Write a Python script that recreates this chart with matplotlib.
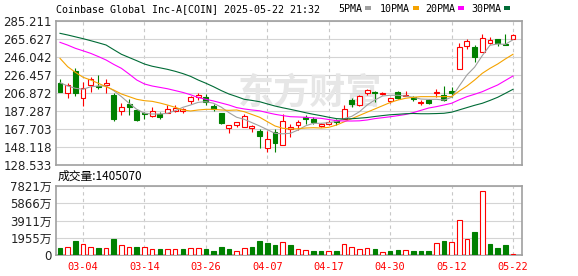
import matplotlib
matplotlib.use('Agg')
import matplotlib.pyplot as plt
from matplotlib.patches import Rectangle

W, H = 578, 276

# trading days shown on the chart (2025-02-27 .. 2025-05-22)
dates = ['02-27', '02-28', '03-03', '03-04', '03-05', '03-06', '03-07', '03-10', '03-11', '03-12',
         '03-13', '03-14', '03-17', '03-18', '03-19', '03-20', '03-21', '03-24', '03-25', '03-26',
         '03-27', '03-28', '03-31', '04-01', '04-02', '04-03', '04-04', '04-07', '04-08', '04-09',
         '04-10', '04-11', '04-14', '04-15', '04-16', '04-17', '04-21', '04-22', '04-23', '04-24',
         '04-25', '04-28', '04-29', '04-30', '05-01', '05-02', '05-05', '05-06', '05-07', '05-08',
         '05-09', '05-12', '05-13', '05-14', '05-15', '05-16', '05-19', '05-20', '05-21', '05-22']

opens = [217.4, 206.5, 231.1, 201.1, 215.2, 214.8, 215.2, 204.7, 187.0, 194.9,
         188.4, 184.6, 182.2, 184.3, 185.4, 187.0, 187.3, 198.2, 202.9, 202.9,
         192.4, 184.8, 169.1, 172.4, 170.2, 169.1, 165.5, 146.7, 164.4, 149.9,
         168.0, 171.7, 181.1, 178.3, 171.5, 173.0, 177.8, 178.9, 198.9, 194.1,
         206.5, 208.3, 206.0, 197.8, 207.9, 203.6, 202.2, 196.0, 199.2, 206.9,
         204.4, 209.0, 233.0, 257.7, 256.6, 251.2, 260.9, 265.3, 259.9, 265.9]
highs = [222.0, 217.4, 233.7, 218.5, 224.0, 226.5, 221.8, 207.2, 195.7, 200.0,
         189.1, 186.2, 192.0, 185.9, 193.5, 193.8, 190.2, 203.6, 206.5, 205.8,
         194.9, 185.4, 171.7, 175.7, 184.0, 172.4, 168.0, 165.9, 167.4, 183.7,
         173.1, 177.5, 182.6, 180.4, 173.9, 177.5, 178.9, 193.5, 201.4, 204.4,
         211.5, 209.4, 207.6, 201.8, 209.0, 208.7, 203.3, 199.2, 200.6, 210.9,
         214.5, 213.4, 260.9, 265.3, 258.8, 271.1, 267.5, 265.3, 271.1, 270.7]
lows = [207.5, 201.8, 203.6, 192.7, 208.3, 211.5, 207.2, 176.7, 183.0, 183.0,
        176.4, 179.1, 180.4, 178.9, 184.8, 186.2, 184.8, 194.9, 199.2, 193.5,
        187.6, 173.1, 163.7, 169.6, 169.6, 164.8, 147.0, 142.3, 142.3, 149.9,
        159.3, 166.6, 172.8, 172.8, 169.9, 171.7, 171.7, 178.9, 192.0, 193.1,
        204.7, 197.4, 204.5, 196.3, 200.8, 203.3, 198.5, 193.5, 194.6, 202.2,
        198.5, 202.2, 233.0, 254.4, 240.6, 251.2, 260.2, 258.3, 258.8, 265.9]
closes = [208.3, 215.6, 206.5, 212.0, 221.8, 213.8, 218.1, 178.6, 191.3, 192.0,
          177.5, 183.5, 187.6, 181.1, 189.5, 190.2, 189.1, 202.2, 204.4, 197.4,
          189.5, 174.6, 171.7, 175.0, 182.2, 170.9, 160.1, 156.8, 152.1, 176.4,
          169.6, 175.0, 178.3, 175.7, 172.8, 175.8, 175.3, 189.1, 194.9, 203.3,
          210.1, 206.5, 207.0, 201.8, 201.3, 204.4, 200.3, 197.1, 196.5, 207.6,
          199.2, 207.2, 256.6, 263.1, 245.7, 266.4, 264.2, 261.3, 259.1, 269.6]

# volume in 万 shares
volumes = [827, 940, 1620, 1246, 872, 793, 793, 1847, 1099, 872,
           906, 872, 642, 680, 718, 642, 680, 827, 755, 680,
           453, 906, 680, 453, 755, 906, 1586, 1360, 1133, 1473,
           1133, 642, 566, 453, 453, 453, 453, 1246, 906, 680,
           755, 680, 340, 453, 566, 566, 453, 453, 453, 1322,
           1586, 1473, 3966, 1813, 2606, 7217, 1246, 793, 1133, 140.5]

# moving averages
ma5 = [218.1, 214.5, 212.0, 210.9, 213.7, 214.5, 214.5, 209.4, 202.9, 195.7,
       189.1, 184.8, 184.0, 184.0, 184.8, 187.6, 191.3, 193.8, 196.7, 197.4,
       195.7, 191.5, 185.5, 180.5, 178.2, 174.6, 171.0, 167.0, 163.0, 162.5,
       163.0, 166.6, 171.2, 173.9, 173.9, 174.6, 176.0, 178.9, 181.5, 186.5,
       193.8, 199.2, 203.6, 204.4, 204.4, 203.6, 202.2, 200.3, 200.0, 200.0,
       199.2, 202.2, 214.5, 226.5, 235.0, 247.6, 258.8, 260.2, 259.8, 264.8]
ma10 = [244.6, 235.5, 229.4, 224.0, 221.0, 217.4, 213.7, 210.1, 205.8, 202.9,
        200.0, 198.5, 197.8, 196.0, 193.8, 191.3, 188.4, 187.3, 188.4, 189.1,
        189.1, 188.4, 188.0, 188.4, 186.5, 183.5, 180.5, 175.7, 171.0, 168.5,
        167.7, 168.0, 168.8, 169.1, 168.8, 169.5, 172.0, 175.5, 179.0, 182.5,
        186.0, 189.5, 193.0, 196.5, 199.2, 201.1, 202.2, 202.9, 202.9, 202.9,
        202.9, 203.0, 209.0, 214.5, 221.0, 228.3, 233.7, 238.4, 243.9, 249.0]
ma20 = [262.0, 259.0, 255.5, 252.8, 250.0, 246.5, 242.8, 238.0, 233.7, 227.5,
        221.0, 216.7, 214.5, 213.0, 211.5, 209.5, 207.5, 205.0, 202.0, 200.0,
        198.2, 196.0, 193.8, 191.0, 189.5, 188.4, 187.5, 185.5, 183.7, 182.3,
        181.1, 180.8, 180.4, 179.8, 179.3, 178.0, 176.8, 176.4, 176.4, 176.6,
        177.5, 179.0, 180.0, 181.0, 182.2, 183.5, 185.5, 188.0, 190.5, 192.0,
        193.8, 195.7, 199.5, 202.9, 205.5, 208.3, 212.0, 215.6, 220.5, 225.4]
ma30 = [271.8, 270.0, 268.0, 266.0, 263.8, 261.5, 259.1, 254.0, 249.0, 245.5,
        242.0, 238.4, 236.0, 234.3, 232.6, 230.5, 228.0, 225.0, 221.0, 217.5,
        213.7, 209.5, 205.8, 203.0, 200.0, 198.8, 197.4, 195.0, 192.7, 190.8,
        189.1, 187.3, 185.4, 183.7, 182.2, 180.5, 179.0, 178.6, 178.9, 179.5,
        180.2, 181.3, 182.3, 183.2, 183.7, 184.3, 184.6, 184.3, 184.3, 184.5,
        184.8, 186.0, 188.5, 191.0, 193.5, 195.7, 198.8, 202.2, 206.5, 210.9]

price_ticks = [128.533, 148.118, 167.703, 187.287, 206.872, 226.457, 246.042, 265.627, 285.211]
price_labels = ['128.533', '148.118', '167.703', '187.287', '206.872',
                '226.457', '246.042', '265.627', '285.211']
vol_ticks = [0, 1955.25, 3910.5, 5865.75, 7821]
vol_labels = ['0', '1955万', '3911万', '5866万', '7821万']
date_ticks = ['03-04', '03-14', '03-26', '04-07', '04-17', '04-30', '05-12', '05-22']
last_volume = '1405070'

ma_names = ['5PMA', '10PMA', '20PMA', '30PMA']

RED = '#ff0000'
GREEN = '#008000'
MA_COLORS = ['#a0a0a0', '#f5a300', '#ff00ff', '#006b36']
FRAME = '#a0a0a0'
GRID = '#d4d4d4'


def px_box(left, top, right, bottom):
    return [left / W, 1 - bottom / H, (right - left) / W, (bottom - top) / H]


fig = plt.figure(figsize=(W / 100, H / 100), dpi=100)
fig.patch.set_facecolor('white')

ax = fig.add_axes(px_box(56, 21, 522, 165))
vax = fig.add_axes(px_box(56, 186, 522, 255))

x = list(range(len(dates)))
tick_idx = [dates.index(d) for d in date_ticks]

# candles
for i in x:
    o, h, l, c = opens[i], highs[i], lows[i], closes[i]
    up = c >= o
    col = RED if up else GREEN
    ax.vlines(i, l, h, color=col, lw=0.8, zorder=3)
    ax.add_patch(Rectangle((i - 0.32, min(o, c)), 0.64, max(abs(c - o), 0.4),
                           facecolor='white' if up else col, edgecolor=col,
                           lw=0.8, zorder=4))

for vals, col in zip([ma5, ma10, ma20, ma30], MA_COLORS):
    ax.plot(x, vals, color=col, lw=0.8, zorder=5)

# watermark
ax.text(0.545, 0.5, '东方财富', transform=ax.transAxes, ha='center', va='center',
        fontsize=26, color='#e6e6e6', family='Noto Sans CJK SC', weight='bold', zorder=1)

# volume bars: colour follows change against previous close
vol_up = [False] + [closes[i] >= closes[i - 1] for i in x[1:]]
vax.bar(x, volumes, width=0.6,
        color=['white' if u else GREEN for u in vol_up],
        edgecolor=[RED if u else GREEN for u in vol_up], lw=0.8, zorder=3)

for a in (ax, vax):
    a.set_xlim(-0.52, 60.17)
    a.set_xticks(tick_idx)
    a.grid(axis='x', color='#c8c8c8', lw=0.8, linestyle=(0, (3, 3)), zorder=0)
    a.grid(axis='y', color=GRID, lw=0.8, zorder=0)
    a.set_axisbelow(True)
    a.tick_params(length=0)
    for s in a.spines.values():
        s.set_color(FRAME)
        s.set_linewidth(1.2)

ax.set_ylim(price_ticks[0], price_ticks[-1])
ax.set_yticks(price_ticks)
ax.set_yticklabels(price_labels, fontsize=8.5, color='#222222')
ax.set_xticklabels([])
ax.tick_params(axis='y', pad=3)

vax.set_ylim(0, vol_ticks[-1])
vax.set_yticks(vol_ticks)
vax.set_yticklabels(vol_labels, fontsize=8.5, color='#222222',
                    family=['DejaVu Sans', 'Noto Sans CJK SC'])
vax.set_xticklabels(date_ticks, fontsize=7.4, color=RED, family='DejaVu Sans Mono')
vax.tick_params(axis='y', pad=3)
vax.tick_params(axis='x', pad=5)

# header
fig.text(55.7 / W, 1 - 12 / H, 'Coinbase Global Inc-A[COIN] 2025-05-22 21:32',
         family='DejaVu Sans Mono', fontsize=7.2, va='baseline')
for name, left, col in zip(ma_names, [338.3, 380, 425.7, 471.7], MA_COLORS):
    fig.text(left / W, 1 - 12 / H, name, family='DejaVu Sans Mono', fontsize=7.2, va='baseline')
    sq = left + len(name) * 6 + 2.5
    fig.add_artist(Rectangle((sq / W, 1 - 9.5 / H), 6 / W, 3 / H, facecolor=col,
                             edgecolor='none', transform=fig.transFigure))

fig.text(57.3 / W, 1 - 176.7 / H, '成交量:' + last_volume, family='Noto Sans CJK SC',
         fontsize=8.5, va='center')

fig.savefig('out.png', dpi=100, facecolor='white')
